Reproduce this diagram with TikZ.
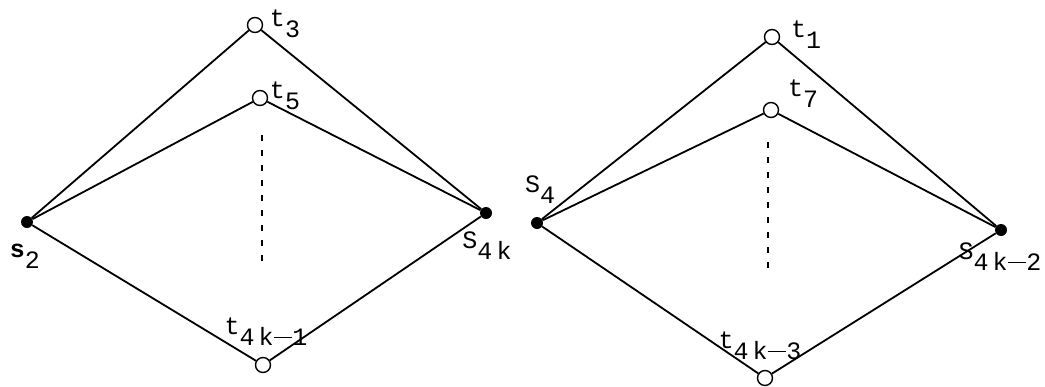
\documentclass[tikz,border=0pt]{standalone}
\usepackage{fontspec}
\newfontfamily\labfont{Liberation Mono}
\newcommand{\lb}[2]{#1\raisebox{-0.45em}{#2}}
\newcommand{\dsh}{\rule[0.3em]{0.75em}{1.2pt}}
\tikzset{
  open/.style={circle,draw,line width=1.4pt,fill=white,minimum size=15pt,inner sep=0pt},
  solid/.style={circle,fill=black,minimum size=12pt,inner sep=0pt},
  edge/.style={line width=1.8pt},
  dotline/.style={line width=1.6pt,dash pattern=on 6pt off 9pt},
  lab/.style={font=\labfont\fontsize{25}{28}\selectfont,inner sep=0pt}
}
\begin{document}
\begin{tikzpicture}[x=1pt,y=-1pt]
\useasboundingbox (0,0) rectangle (1045,386);
% left diagram
\node[open] (t3) at (255,25) {};
\node[open] (t5) at (260,98) {};
\node[solid] (s2) at (27,222) {};
\node[solid] (s4k) at (486,213) {};
\node[open] (t4k1) at (263,365) {};
\draw[edge] (t3) -- (s2);
\draw[edge] (t3) -- (s4k);
\draw[edge] (t5) -- (s2);
\draw[edge] (t5) -- (s4k);
\draw[edge] (s2) -- (t4k1);
\draw[edge] (t4k1) -- (s4k);
\coordinate (d1a) at (262,135);
\coordinate (d1b) at (262,262);
\draw[dotline] (d1a) -- (d1b);
\node[lab] (lt3) at (285,24) {\lb{t}{3}};
\node[lab] (lt5) at (285,96) {\lb{t}{5}};
\node[lab] (ls2) at (25,256) {\lb{\textbf{s}}{2}};
\node[lab] (ls4k) at (487,246) {\lb{S}{4\,k}};
\node[lab] (lt4k1) at (266,332) {\lb{t}{4\,k\dsh1}};
% right diagram
\node[open] (t1) at (772,37) {};
\node[open] (t7) at (771,110) {};
\node[solid] (s4) at (537,223) {};
\node[solid] (s4k2) at (1001,230) {};
\node[open] (t4k3) at (765,378) {};
\draw[edge] (t1) -- (s4);
\draw[edge] (t1) -- (s4k2);
\draw[edge] (t7) -- (s4);
\draw[edge] (t7) -- (s4k2);
\draw[edge] (s4) -- (t4k3);
\draw[edge] (t4k3) -- (s4k2);
\coordinate (d2a) at (768,142);
\coordinate (d2b) at (768,270);
\draw[dotline] (d2a) -- (d2b);
\node[lab] (lt1) at (806,35) {\lb{t}{1}};
\node[lab] (lt7) at (803,94) {\lb{t}{7}};
\node[lab] (ls4) at (540,190) {\lb{S}{4}};
\node[lab] (ls4k2) at (1000,257) {\lb{S}{4\,k\dsh2}};
\node[lab] (lt4k3) at (760,346) {\lb{t}{4\,k\dsh3}};
\end{tikzpicture}
\end{document}
